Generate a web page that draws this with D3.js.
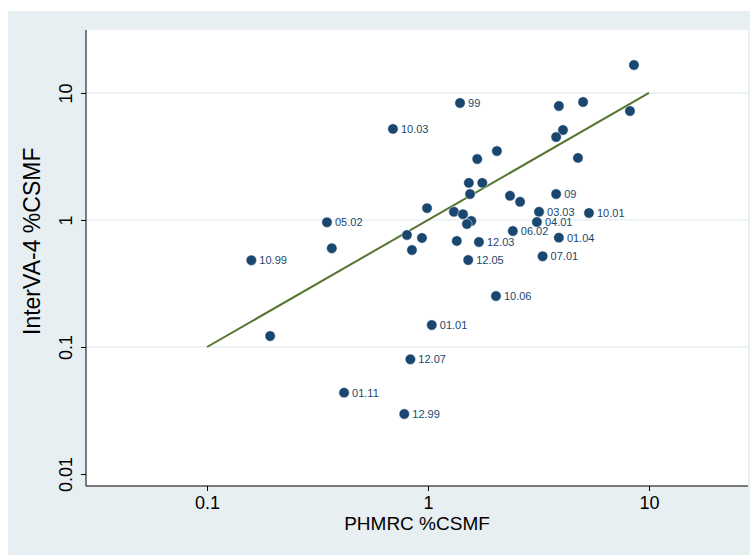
<!DOCTYPE html>
<html>
<head>
<meta charset="utf-8">
<script src="https://cdn.jsdelivr.net/npm/d3@7"></script>
<style>
  body { margin: 0; background: #fff; }
  svg text { font-family: 'Liberation Sans', Arial, Helvetica, sans-serif; }
</style>
</head>
<body>
<svg id="chart" width="753" height="555"></svg>
<script>
// PHMRC %CSMF (x) vs InterVA-4 %CSMF (y), one point per cause
const phmrc = [8.55, 1.396, 5.03, 3.91, 8.20, 0.694, 4.08, 3.80, 2.05, 1.67,
  4.77, 1.53, 1.76, 1.55, 2.35, 2.61, 3.80, 0.99, 1.31, 1.44,
  3.18, 5.35, 1.57, 1.50, 3.11, 0.349, 2.42, 3.91, 0.803, 0.939,
  1.35, 1.70, 0.367, 0.846, 1.52, 3.30, 0.1587, 2.03, 0.193, 1.04,
  0.832, 0.417, 0.781];
const interva = [16.6, 8.34, 8.49, 7.90, 7.21, 5.21, 5.11, 4.50, 3.49, 3.02,
  3.08, 1.96, 1.96, 1.60, 1.55, 1.39, 1.60, 1.24, 1.16, 1.11,
  1.16, 1.135, 0.982, 0.930, 0.964, 0.959, 0.819, 0.726, 0.762, 0.722,
  0.684, 0.671, 0.599, 0.580, 0.484, 0.518, 0.482, 0.252, 0.122, 0.149,
  0.080, 0.0437, 0.0297];
const causeLabels = ['', '99', '', '', '', '10.03', '', '', '', '',
  '', '', '', '', '', '', '09', '', '', '',
  '03.03', '10.01', '', '', '04.01', '05.02', '06.02', '01.04', '', '',
  '', '12.03', '', '', '12.05', '07.01', '10.99', '10.06', '', '01.01',
  '12.07', '01.11', '12.99'];

const xTicks = [0.1, 1, 10];
const yTicks = [0.01, 0.1, 1, 10];
const yGrid = [0.1, 1, 10];
const refLine = [0.1, 10]; // y = x

const svg = d3.select('#chart');

const plot = { left: 86, right: 748, top: 30, bottom: 486 };

const navy = '#1a476f';
const green = '#55752f';
const bg = '#e8eff2';

svg.append('rect')
  .attr('x', 8).attr('y', 11)
  .attr('width', 742).attr('height', 544)
  .attr('fill', bg);

svg.append('rect')
  .attr('x', plot.left).attr('y', plot.top)
  .attr('width', plot.right - plot.left).attr('height', plot.bottom - plot.top)
  .attr('fill', '#fff');

const x = d3.scaleLog()
  .domain([0.02834, 28.05])
  .range([plot.left, plot.right]);

const y = d3.scaleLog()
  .domain([0.00805, 31.3])
  .range([plot.bottom, plot.top]);

// horizontal grid
svg.append('g')
  .selectAll('line')
  .data(yGrid)
  .enter()
  .append('line')
  .attr('x1', plot.left)
  .attr('x2', plot.right)
  .attr('y1', (d) => y(d))
  .attr('y2', (d) => y(d))
  .attr('stroke', bg)
  .attr('stroke-width', 1.5);

// axes
const xAxis = d3.axisBottom(x).tickValues(xTicks).tickFormat((d) => `${d}`).tickSize(5).tickPadding(5);
const yAxis = d3.axisLeft(y).tickValues(yTicks).tickFormat((d) => `${d}`).tickSize(5).tickPadding(5);

const gx = svg.append('g')
  .attr('transform', `translate(0,${plot.bottom})`)
  .call(xAxis);
gx.select('.domain').attr('d', `M${plot.left},0H${plot.right}`);
gx.selectAll('text')
  .attr('font-size', '18px')
  .attr('fill', '#000')
  .attr('font-family', "'Liberation Sans', Arial, sans-serif");

const gy = svg.append('g')
  .attr('transform', `translate(${plot.left},0)`)
  .call(yAxis);
gy.select('.domain').attr('d', `M0,${plot.top}V${plot.bottom}`);
gy.selectAll('text')
  .attr('font-size', '18px')
  .attr('fill', '#000')
  .attr('font-family', "'Liberation Sans', Arial, sans-serif")
  .attr('x', null)
  .attr('dy', null)
  .style('text-anchor', 'middle')
  .attr('transform', 'translate(-14,0) rotate(-90)');

svg.selectAll('.domain, .tick line').attr('stroke', '#000');

// axis titles
svg.append('text')
  .attr('x', (plot.left + plot.right) / 2)
  .attr('y', 530)
  .attr('text-anchor', 'middle')
  .attr('font-size', '19px')
  .text('PHMRC %CSMF');

svg.append('text')
  .attr('transform', 'translate(40,335) rotate(-90)')
  .attr('text-anchor', 'start')
  .attr('font-size', '23px')
  .text('InterVA-4 %CSMF');

// reference line
svg.append('line')
  .attr('x1', x(refLine[0]))
  .attr('y1', y(refLine[0]))
  .attr('x2', x(refLine[1]))
  .attr('y2', y(refLine[1]))
  .attr('stroke', green)
  .attr('stroke-width', 2);

// points
const pts = phmrc.map((d, i) => ({ x: d, y: interva[i], label: causeLabels[i] }));

svg.append('g')
  .selectAll('circle')
  .data(pts)
  .enter()
  .append('circle')
  .attr('cx', (d) => x(d.x))
  .attr('cy', (d) => y(d.y))
  .attr('r', 5.2)
  .attr('fill', navy)
  .attr('stroke', '#fff')
  .attr('stroke-width', 0.5);

svg.append('g')
  .selectAll('text')
  .data(pts.filter((d) => d.label !== ''))
  .enter()
  .append('text')
  .attr('x', (d) => x(d.x) + 8)
  .attr('y', (d) => y(d.y) + 4)
  .attr('font-size', '11px')
  .attr('fill', navy)
  .text((d) => d.label);
</script>
</body>
</html>
